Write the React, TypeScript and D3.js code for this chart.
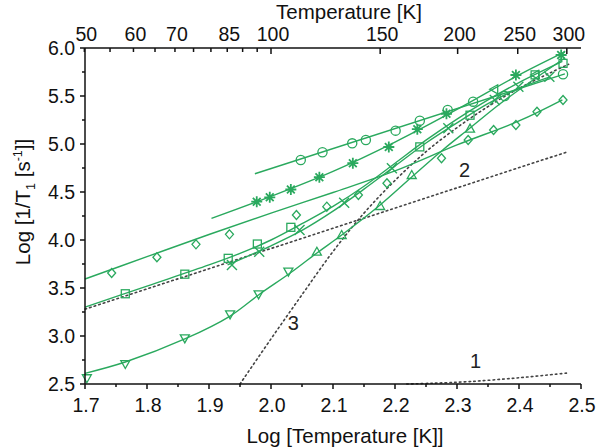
import React from "react";
import * as d3 from "d3";

// x = log10(T), y = log10(1/T1)
const circles = [
  [2.048, 4.833], [2.083, 4.914], [2.131, 5.007], [2.153, 5.042], [2.201, 5.139],
  [2.24, 5.243], [2.285, 5.354], [2.326, 5.441], [2.377, 5.5], [2.471, 5.726],
];
const stars = [
  [1.977, 4.399], [1.998, 4.445], [2.032, 4.526], [2.078, 4.654], [2.132, 4.8],
  [2.19, 4.969], [2.236, 5.154], [2.283, 5.315], [2.395, 5.719], [2.468, 5.927],
];
const diamonds = [
  [1.743, 3.656], [1.816, 3.82], [1.879, 3.955], [1.933, 4.059], [2.041, 4.26],
  [2.09, 4.347], [2.141, 4.469], [2.187, 4.591], [2.275, 4.851], [2.318, 5.042],
  [2.359, 5.146], [2.395, 5.198], [2.429, 5.336], [2.471, 5.458],
];
const squares = [
  [1.765, 3.44], [1.861, 3.644], [1.931, 3.809], [1.978, 3.958], [2.032, 4.132],
  [2.24, 4.97], [2.321, 5.3], [2.426, 5.72], [2.471, 5.84],
];
const crosses = [
  [1.937, 3.74], [1.981, 3.878], [2.046, 4.104], [2.118, 4.389], [2.195, 4.747],
  [2.286, 5.164], [2.361, 5.458], [2.399, 5.597], [2.449, 5.701],
];
const trianglesDown = [
  [1.703, 2.56], [1.765, 2.708], [1.861, 2.976], [1.934, 3.226], [1.98, 3.434], [2.028, 3.67],
];
const trianglesUp = [
  [2.074, 3.878], [2.114, 4.052], [2.176, 4.354], [2.227, 4.677], [2.321, 5.16],
];
const trianglesLeft = [[2.36, 5.57], [2.426, 5.72]];

// fitted curves
const circleFit = [[1.974, 4.69], [2.474, 5.73]];
const starFit = [
  [1.904, 4.225], [2.0, 4.455], [2.1, 4.715], [2.2, 5.02], [2.3, 5.36], [2.4, 5.72], [2.474, 5.96],
];
const diamondFit = [
  [1.7, 3.594], [1.8, 3.826], [1.9, 4.057], [2.0, 4.28], [2.1, 4.495], [2.2, 4.72],
  [2.3, 4.99], [2.4, 5.24], [2.47, 5.46],
];
const squareFit = [
  [1.7, 3.3], [1.8, 3.52], [1.9, 3.74], [1.95, 3.86], [2.0, 4.0], [2.05, 4.17], [2.1, 4.35],
  [2.15, 4.56], [2.2, 4.8], [2.25, 5.04], [2.3, 5.26], [2.35, 5.46], [2.4, 5.64], [2.47, 5.86],
];
const crossFit = [
  [1.93, 3.74], [2.0, 3.94], [2.05, 4.1], [2.1, 4.3], [2.15, 4.53], [2.2, 4.77],
  [2.25, 5.01], [2.3, 5.22], [2.35, 5.42], [2.4, 5.58], [2.45, 5.7],
];
const triangleFit = [
  [1.7, 2.611], [1.765, 2.729], [1.861, 2.969], [1.934, 3.208], [1.982, 3.438], [2.031, 3.656],
  [2.074, 3.865], [2.114, 4.052], [2.176, 4.365], [2.227, 4.656], [2.277, 4.938], [2.321, 5.167],
  [2.369, 5.417], [2.418, 5.646], [2.474, 5.896],
];

// model contributions (dotted)
const model1 = [[2.219, 2.5], [2.26, 2.508], [2.32, 2.525], [2.4, 2.565], [2.479, 2.615]];
const model2 = [[1.7, 3.28], [2.479, 4.92]];
const model3 = [
  [1.95, 2.5], [2.0, 2.97], [2.05, 3.43], [2.1, 3.88], [2.15, 4.28], [2.2, 4.62],
  [2.25, 4.92], [2.3, 5.17], [2.35, 5.39], [2.4, 5.58], [2.45, 5.74], [2.48, 5.83],
];
const modelLabels = [
  { t: "1", x: 2.33, y: 2.67 },
  { t: "2", x: 2.312, y: 4.66 },
  { t: "3", x: 2.036, y: 3.06 },
];

const xTicks = [1.7, 1.8, 1.9, 2.0, 2.1, 2.2, 2.3, 2.4, 2.5];
const yTicks = [2.5, 3.0, 3.5, 4.0, 4.5, 5.0, 5.5, 6.0];
const topTicks = [50, 55, 60, 65, 70, 75, 80, 85, 90, 95, 100, 150, 200, 250, 300];
const topLabels = [50, 60, 70, 85, 100, 150, 200, 250, 300];

const W = 601;
const H = 448;
const green = "#2aa95e";
const font = "'Liberation Sans', Arial, sans-serif";

const x = d3.scaleLinear([1.7, 2.5], [85, 581]);
const y = d3.scaleLinear([2.5, 6.0], [384, 48]);

const smooth = d3
  .line<number[]>()
  .x((d) => x(d[0]))
  .y((d) => y(d[1]))
  .curve(d3.curveCatmullRom);

const Marker: React.FC<{ type: string; cx: number; cy: number }> = ({ type, cx, cy }) => {
  const common = { fill: "none", stroke: green, strokeWidth: 1.3 };
  if (type === "circle") return <circle cx={cx} cy={cy} r={4.6} {...common} />;
  if (type === "square") return <rect x={cx - 4} y={cy - 4} width={8} height={8} {...common} />;
  if (type === "diamond")
    return <path d={`M${cx},${cy - 4.5}L${cx + 4},${cy}L${cx},${cy + 4.5}L${cx - 4},${cy}Z`} {...common} />;
  if (type === "tdown")
    return <path d={`M${cx - 4.5},${cy - 3.5}L${cx + 4.5},${cy - 3.5}L${cx},${cy + 4.5}Z`} {...common} />;
  if (type === "tup")
    return <path d={`M${cx - 4.5},${cy + 3.5}L${cx + 4.5},${cy + 3.5}L${cx},${cy - 4.5}Z`} {...common} />;
  if (type === "tleft")
    return <path d={`M${cx + 3.5},${cy - 4.5}L${cx + 3.5},${cy + 4.5}L${cx - 4.5},${cy}Z`} {...common} />;
  if (type === "cross")
    return (
      <path d={`M${cx - 5},${cy - 5}L${cx + 5},${cy + 5}M${cx - 5},${cy + 5}L${cx + 5},${cy - 5}`} {...common} strokeWidth={1.4} />
    );
  // star: eight-armed asterisk
  const r = 5.5;
  const d = d3
    .range(4)
    .map((i) => {
      const a = (i * Math.PI) / 4;
      return `M${cx - r * Math.cos(a)},${cy - r * Math.sin(a)}L${cx + r * Math.cos(a)},${cy + r * Math.sin(a)}`;
    })
    .join("");
  return <path d={d} fill="none" stroke={green} strokeWidth={1.8} />;
};

const Series: React.FC<{ data: number[][]; type: string }> = ({ data, type }) => (
  <g>
    {data.map((p, i) => (
      <Marker key={i} type={type} cx={x(p[0])} cy={y(p[1])} />
    ))}
  </g>
);

export default function App() {
  const x0 = x.range()[0];
  const x1 = x.range()[1];
  const yb = y.range()[0];
  const yt = y.range()[1];
  const minorX = d3.range(1.75, 2.5, 0.1);
  const minorY = d3.range(2.75, 6.0, 0.5);

  return (
    <svg width={W} height={H} style={{ position: "absolute", left: 0, top: 0, background: "#fff" }} fontFamily={font}>
      {/* model curves */}
      <g fill="none" stroke="#444" strokeWidth={1.6} strokeDasharray="1.6 3.2" strokeLinecap="round">
        <path d={smooth(model1) || ""} />
        <path d={smooth(model2) || ""} />
        <path d={smooth(model3) || ""} />
      </g>
      {modelLabels.map((m) => (
        <text key={m.t} x={x(m.x)} y={y(m.y)} textAnchor="middle" fontSize={20} fill="#222">
          {m.t}
        </text>
      ))}

      {/* fits */}
      <g fill="none" stroke={green} strokeWidth={1.4}>
        {[circleFit, starFit, diamondFit, squareFit, crossFit, triangleFit].map((f, i) => (
          <path key={i} d={smooth(f) || ""} />
        ))}
      </g>

      <Series data={circles} type="circle" />
      <Series data={stars} type="star" />
      <Series data={diamonds} type="diamond" />
      <Series data={squares} type="square" />
      <Series data={crosses} type="cross" />
      <Series data={trianglesDown} type="tdown" />
      <Series data={trianglesUp} type="tup" />
      <Series data={trianglesLeft} type="tleft" />

      {/* axes */}
      <g stroke="#111" strokeWidth={1.5} fill="none">
        <line x1={x0} x2={x1} y1={yb} y2={yb} />
        <line x1={x0} x2={x0} y1={yb} y2={yt} />
        <line x1={x0} x2={x1} y1={yt} y2={yt} />
        {xTicks.map((t) => (
          <line key={t} x1={x(t)} x2={x(t)} y1={yb} y2={yb + 5} />
        ))}
        {minorX.map((t) => (
          <line key={t} x1={x(t)} x2={x(t)} y1={yb} y2={yb + 3} />
        ))}
        {yTicks.map((t) => (
          <line key={t} x1={x0 - 5} x2={x0} y1={y(t)} y2={y(t)} />
        ))}
        {minorY.map((t) => (
          <line key={t} x1={x0 - 3} x2={x0} y1={y(t)} y2={y(t)} />
        ))}
        {topTicks.map((t) => (
          <line
            key={t}
            x1={x(Math.log10(t))}
            x2={x(Math.log10(t))}
            y1={yt}
            y2={yt + (topLabels.includes(t) && t >= 100 ? 6 : 4)}
          />
        ))}
      </g>

      <g fontSize={19.5} fill="#111">
        {xTicks.map((t) => (
          <text key={t} x={x(t) + 1} y={yb + 28} textAnchor="middle">
            {t.toFixed(1)}
          </text>
        ))}
        {yTicks.map((t) => (
          <text key={t} x={x0 - 10} y={y(t)} dy="0.36em" textAnchor="end">
            {t.toFixed(1)}
          </text>
        ))}
        {topLabels.map((t) => (
          <text key={t} x={x(Math.log10(t)) + 2} y={yt - 7} textAnchor="middle">
            {t}
          </text>
        ))}
      </g>
      <g fontSize={20.5} fill="#111">
        <text x={345} y={443} textAnchor="middle">
          Log [Temperature [K]]
        </text>
        <text x={349} y={19} textAnchor="middle">
          Temperature [K]
        </text>
        <text transform="translate(30,202) rotate(-90)" textAnchor="middle">
          Log [1/T
          <tspan fontSize={12.5} dy={5}>1</tspan>
          <tspan dy={-5}> [s</tspan>
          <tspan fontSize={12.5} dy={-8}>-1</tspan>
          <tspan dy={8}>]]</tspan>
        </text>
      </g>
    </svg>
  );
}
